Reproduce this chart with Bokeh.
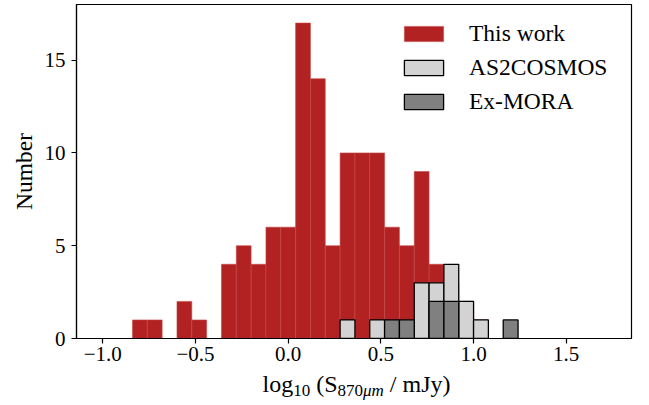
import numpy as np
from bokeh.plotting import figure
from bokeh.layouts import column
from bokeh.models import (ColumnDataSource, Legend, LegendItem, Div,
                          FixedTicker, Range1d)
from bokeh.embed import file_html
from bokeh.resources import INLINE

# Histogram bins in log10(S_870um / mJy), width 0.08
bin_edges = [round(-1.0 + 0.08 * k, 2) for k in range(35)]

# Counts per bin
this_work = [0, 0, 1, 1, 0, 2, 1, 0, 4, 5, 4, 6, 6, 17, 14, 5, 10, 10, 10,
             6, 5, 9, 4, 3, 2, 1, 0, 0, 0, 0, 0, 0, 0, 0]
as2cosmos = [0, 0, 0, 0, 0, 0, 0, 0, 0, 0, 0, 0, 0, 0, 0, 0, 1, 0, 1,
             0, 0, 3, 3, 4, 2, 1, 0, 0, 0, 0, 0, 0, 0, 0]
ex_mora = [0, 0, 0, 0, 0, 0, 0, 0, 0, 0, 0, 0, 0, 0, 0, 0, 0, 0, 0,
           1, 1, 0, 2, 2, 0, 0, 0, 1, 0, 0, 0, 0, 0, 0]

x_ticks = [-1.0, -0.5, 0.0, 0.5, 1.0, 1.5]
x_tick_labels = ["\u22121.0", "\u22120.5", "0.0", "0.5", "1.0", "1.5"]
y_ticks = [0, 5, 10, 15]

SERIF = "Liberation Serif"


def hist_source(counts, keep_empty):
    lefts = np.array(bin_edges[:-1])
    rights = np.array(bin_edges[1:])
    tops = np.array(counts, dtype=float)
    mask = np.ones_like(tops, dtype=bool) if keep_empty else tops > 0
    return ColumnDataSource(dict(left=lefts[mask], right=rights[mask],
                                 top=tops[mask]))


p = figure(width=649, height=372, output_backend="svg", toolbar_location=None,
           x_range=Range1d(-1.142, 1.852), y_range=Range1d(0, 18.0),
           min_border_left=76, min_border_right=18, min_border_top=4,
           min_border_bottom=34)
p.background_fill_color = "white"
p.border_fill_color = "white"
p.outline_line_color = "black"
p.outline_line_width = 1.2
p.grid.visible = False

r_work = p.quad(left="left", right="right", bottom=0, top="top",
                source=hist_source(this_work, True),
                fill_color="#b22222", line_color="#c44848", line_width=0.6)
r_as2 = p.quad(left="left", right="right", bottom=0, top="top",
               source=hist_source(as2cosmos, False),
               fill_color="#d3d3d3", line_color="black", line_width=1.3)
r_exm = p.quad(left="left", right="right", bottom=0, top="top",
               source=hist_source(ex_mora, False),
               fill_color="#808080", line_color="black", line_width=1.3)

# Axes
for ax in (p.xaxis[0], p.yaxis[0]):
    ax.axis_line_color = "black"
    ax.axis_line_width = 1.2
    ax.major_tick_line_color = "black"
    ax.major_tick_line_width = 1.2
    ax.major_tick_out = 5
    ax.major_tick_in = 0
    ax.minor_tick_out = 0
    ax.minor_tick_in = 0
    ax.major_label_text_font = SERIF
    ax.major_label_text_font_size = "21px"
    ax.major_label_text_color = "black"

p.xaxis.ticker = FixedTicker(ticks=x_ticks)
p.xaxis.major_label_overrides = dict(zip(x_ticks, x_tick_labels))
p.xaxis.major_label_standoff = 3
p.yaxis.ticker = FixedTicker(ticks=y_ticks)
p.yaxis.major_label_standoff = 6

p.yaxis.axis_label = "Number"
p.yaxis.axis_label_text_font = SERIF
p.yaxis.axis_label_text_font_size = "23.5px"
p.yaxis.axis_label_text_font_style = "normal"
p.yaxis.axis_label_text_color = "black"
p.yaxis.axis_label_standoff = 5

legend = Legend(items=[LegendItem(label="This work", renderers=[r_work]),
                       LegendItem(label="AS2COSMOS", renderers=[r_as2]),
                       LegendItem(label="Ex-MORA", renderers=[r_exm])],
                location=(323, 223), padding=0, margin=0, spacing=7,
                glyph_width=49, glyph_height=19, label_standoff=21,
                label_text_font=SERIF, label_text_font_size="23.5px",
                label_text_color="black",
                border_line_alpha=0, background_fill_alpha=0)
p.add_layout(legend)

# x-axis title with real subscripts
sub = "font-size:17px;vertical-align:-4px;line-height:0;"
x_title = Div(
    text=("<div style=\"font-family:'Liberation Serif';font-size:24px;"
          "line-height:24px;color:black;white-space:nowrap;"
          "width:649px;box-sizing:border-box;padding-left:64px;"
          "text-align:center;\">"
          f"log<span style=\"{sub}\">10</span> "
          f"(S<span style=\"{sub}\">870<i>\u03bcm</i></span> / mJy)</div>"),
    width=649, height=33, margin=0)

layout = column(p, x_title, spacing=0)
open("out.html", "w").write(file_html(layout, INLINE))
